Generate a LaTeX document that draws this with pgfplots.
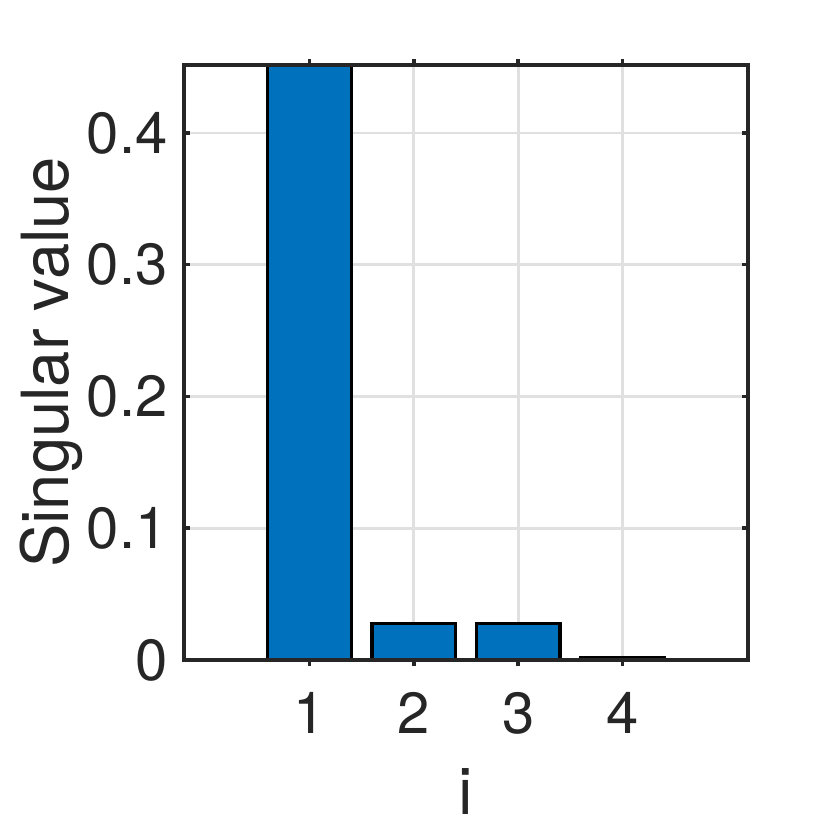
\documentclass[border=0pt]{standalone}
\usepackage{pgfplots}
\pgfplotsset{compat=1.18}
\usepackage{fontspec}
\setmainfont{TeX Gyre Heros}
\definecolor{barblue}{HTML}{0072BD}
\definecolor{axgray}{HTML}{262626}
\definecolor{gridgray}{HTML}{E0E0E0}
\begin{document}
\begin{tikzpicture}
\begin{axis}[
  anchor=south west,
  scale only axis, width=5.64cm, height=5.95cm,
  xmin=-0.2, xmax=5.2, ymin=0, ymax=0.4516,
  xtick={1,2,3,4}, ytick={0,0.1,0.2,0.3,0.4},
  yticklabels={0,0.1,0.2,0.3,0.4},
  /pgf/number format/assume math mode=true,
  tick label style={font=\fontsize{16.5}{19}\selectfont, text=axgray},
  label style={font=\fontsize{18.5}{21}\selectfont, text=axgray},
  tick align=inside, major tick length=0.06cm,
  tick style={draw=axgray, line width=1pt},
  axis line style={draw=axgray, line width=1pt},
  grid=major, set layers, axis on top,
  major grid style={draw=gridgray, line width=0.8pt, /pgfplots/on layer=axis background},
  xlabel={i}, ylabel={Singular value},
  xticklabel style={yshift=-0.14cm},
  yticklabel style={xshift=-0.04cm},
  ylabel shift=-0.2cm,
  xlabel style={yshift=-0.1cm},
  ybar, bar width=0.8,
]
\addplot[fill=barblue, draw=black, line width=0.9pt] coordinates {
  (1,0.48) (2,0.028) (3,0.028) (4,0.002)};
\end{axis}
\path (-1.84,-1.70) rectangle (6.46,6.60);
\end{tikzpicture}
\end{document}
